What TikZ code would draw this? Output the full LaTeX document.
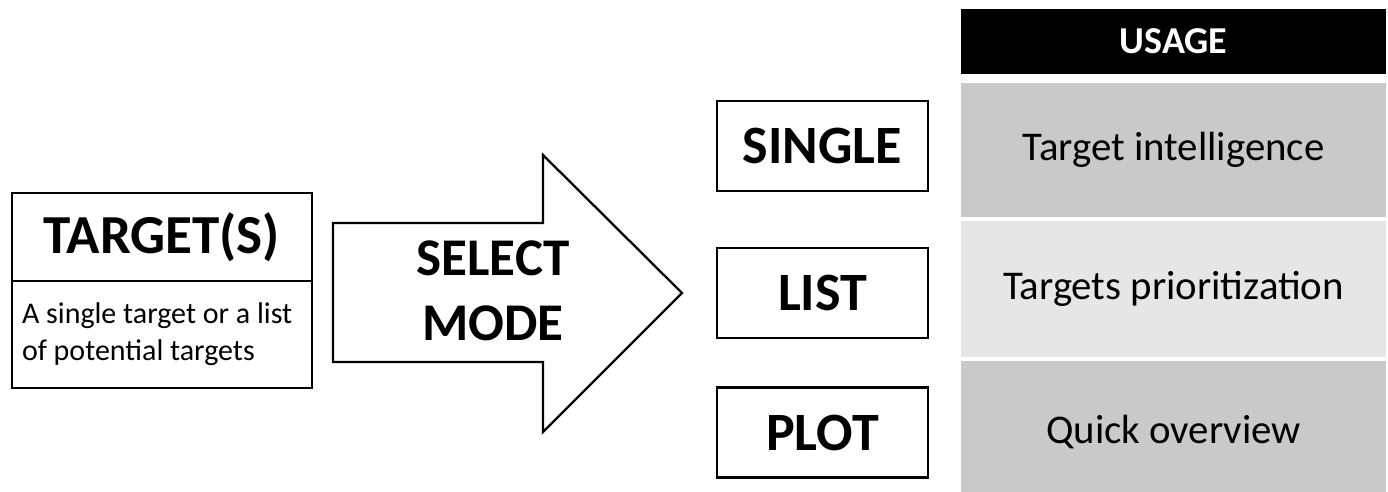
\documentclass[tikz,border=0pt]{standalone}
\usepackage{fontspec}
\setmainfont{Carlito}
\usepackage{tikz}
\usetikzlibrary{positioning}

\definecolor{rowDark}{HTML}{C9C9C9}
\definecolor{rowLight}{HTML}{E6E6E6}

\begin{document}
\begin{tikzpicture}[x=0.5pt,y=-0.5pt]
		\useasboundingbox (0,0) rectangle (1388,492);
		\begin{scope}
			[
				styleBox/.style={
					draw, line width=1.4pt, outer sep=0pt, inner sep=0pt,
					minimum width=150pt
					},
				styleMode/.style={draw, line width=1.4pt, minimum width=105.5pt, minimum height=45pt,
					font=\fontsize{27}{32}\selectfont\bfseries},
				styleHead/.style={fill=black, text=white, minimum width=212.5pt, minimum height=32.5pt,
					font=\fontsize{19}{23}\selectfont\bfseries},
				styleUsage/.style={fill=#1, minimum width=212.5pt, font=\fontsize{20.4}{24}\selectfont},
			]
			\node(target)[styleBox, minimum height=44pt, font=\fontsize{27.5}{32}\selectfont\bfseries] at (162,237) {TARGET(S)};
			\node(targetdesc)[styleBox, minimum height=53.5pt, below=0pt of target, text width=140pt, align=flush left,
				font=\fontsize{15}{18.4}\selectfont] {A single target or a list\\of potential targets};

			\draw[line width=1.15pt, line join=miter] (333,223) -- (543,223) -- (543,155) -- (682,293)
				-- (543,432) -- (543,362) -- (333,362) -- cycle;
			\node(mode)[align=center, font=\fontsize{26.5}{32.5}\selectfont\bfseries] at (493,291) {SELECT\\MODE};

			\node(single)[styleMode] at (822.5,146) {SINGLE};
			\node(list)[styleMode] at (822.5,293) {LIST};
			\node(plot)[styleMode] at (822.5,432.5) {PLOT};

			\node(usage)[styleHead] at (1173.5,41.5) {USAGE};
			\node(usesingle)[styleUsage=rowDark, minimum height=67pt] at (1173.5,150) {Target intelligence};
			\node(uselist)[styleUsage=rowLight, minimum height=68pt] at (1173.5,289) {Targets prioritization};
			\node(useplot)[styleUsage=rowDark, minimum height=71pt] at (1173.5,432) {Quick overview};
		\end{scope}
	\end{tikzpicture}
\end{document}
